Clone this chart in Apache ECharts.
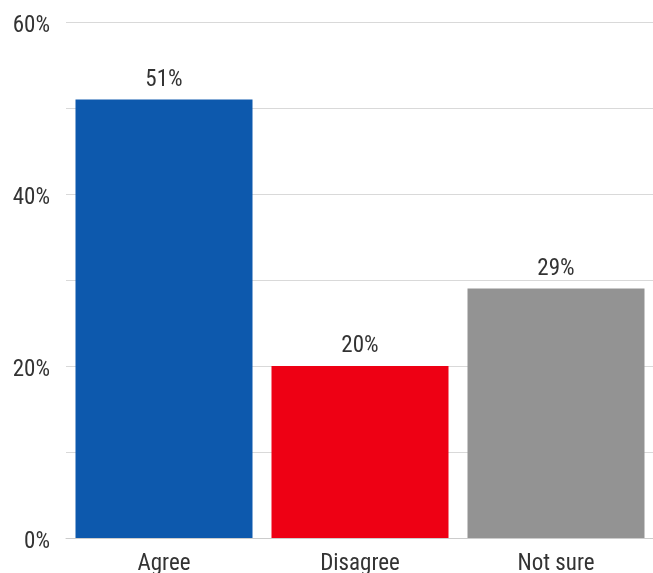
<!DOCTYPE html>
<html>
<head>
<meta charset="utf-8">
<script src="https://cdn.jsdelivr.net/npm/echarts@6/dist/echarts.min.js"></script>
<style>
  html, body { margin: 0; padding: 0; background: #fff; }
  #chart { width: 653px; height: 573px; }
</style>
</head>
<body>
<div id="chart"></div>
<script>
const categories = ['Agree', 'Disagree', 'Not sure'];
const values = [51, 20, 29];
const barColors = ['#0d59ad', '#ee0014', '#939393'];
const yTicks = [0, 20, 40, 60];

const font = "'Roboto Condensed', 'Liberation Sans Narrow', 'DejaVu Sans Condensed', Roboto, sans-serif";

const chart = echarts.init(document.getElementById('chart'));
chart.setOption({
  animation: false,
  grid: { left: 66, right: -1, top: 22, bottom: 35, outerBoundsMode: 'none', containLabel: false },
  xAxis: {
    type: 'category',
    data: categories,
    axisLine: { show: true, lineStyle: { color: '#cccccc' } },
    axisTick: { show: false },
    axisLabel: { color: '#333', fontFamily: font, fontSize: 23, margin: 15 }
  },
  yAxis: {
    type: 'value',
    min: 0,
    max: 60,
    interval: 10,
    axisLine: { show: false },
    axisTick: { show: false },
    splitLine: { lineStyle: { color: '#d9d9d9' } },
    axisLabel: {
      color: '#333', fontFamily: font, fontSize: 23, margin: 16,
      verticalAlign: 'top', lineHeight: 8,
      formatter: v => yTicks.includes(v) ? v + '%' : ''
    }
  },
  series: [{
    type: 'bar',
    barWidth: 177,
    data: values.map((v, i) => ({ value: v, itemStyle: { color: barColors[i] } })),
    label: {
      show: true, position: 'top', distance: 8,
      color: '#333', fontFamily: font, fontSize: 23,
      formatter: p => p.value + '%'
    }
  }]
});
</script>
</body>
</html>
